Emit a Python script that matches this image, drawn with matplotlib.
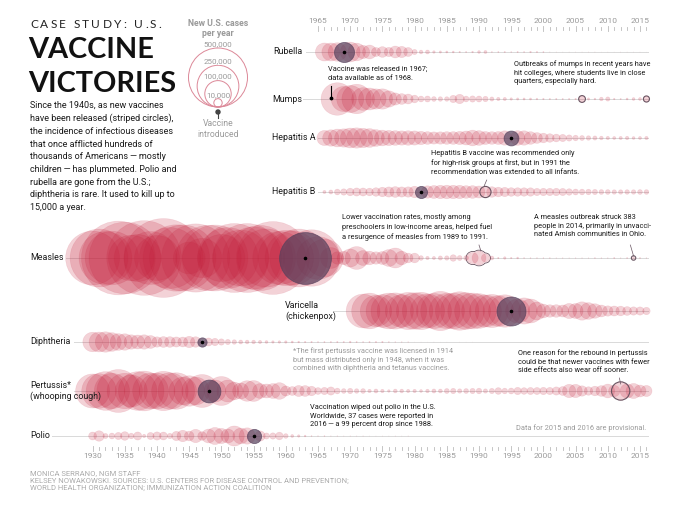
import numpy as np
import matplotlib.pyplot as plt
from matplotlib.patches import Circle

# new U.S. cases per year, first year of each series
RUBELLA_START = 1966
RUBELLA = [46975, 46888, 49371, 57686, 56552, 45086, 25507, 27804, 11917, 16652,
           12491, 20395, 18269, 11795, 3904, 2077, 2325, 970, 752, 630,
           551, 306, 225, 396, 1125, 1401, 160, 192, 227, 128,
           238, 181, 364, 267, 176, 23, 18, 7, 10, 11,
           11, 12, 16, 3, 5, 4, 9, 9, 6, 5, 1]
MUMPS_START = 1968
MUMPS = [152209, 90918, 104953, 124939, 74215, 69612, 59128, 59647, 38492, 21436,
         16817, 14225, 8576, 4941, 5270, 3355, 3021, 2982, 7790, 12848,
         4866, 5712, 5292, 4264, 2572, 1692, 1537, 906, 751, 683,
         666, 387, 338, 266, 270, 231, 258, 314, 6584, 800,
         454, 1991, 2612, 370, 229, 584, 1223, 1329, 5311]
HEPA_START = 1966
HEPA = [32859, 38909, 45893, 48416, 56797, 59606, 54074, 50749, 40358, 35855,
        33288, 31153, 29500, 30407, 29087, 25802, 23403, 21532, 22040, 23210,
        23430, 25280, 28507, 35821, 31441, 24378, 23112, 24238, 29796, 31582,
        31032, 30021, 23229, 17047, 13397, 10609, 8795, 7653, 5683, 4488,
        3579, 2979, 2585, 1987, 1670, 1398, 1562, 1781, 1239, 1390, 1649]
HEPB_START = 1966
HEPB = [1497, 2458, 4829, 5909, 8310, 9556, 9402, 8451, 10631, 13121,
        14973, 16831, 15016, 15452, 19015, 21152, 22177, 24318, 26115, 26611,
        26107, 25916, 23177, 23419, 21102, 18003, 16126, 13361, 12517, 10805,
        10637, 10416, 10258, 7694, 8036, 7843, 7996, 7526, 6212, 5119,
        4713, 4519, 4033, 3405, 3374, 2903, 2895, 3050, 2953, 3370, 3218]
MEASLES_START = 1930
MEASLES = [417756, 481530, 402445, 412000, 782000, 737000, 300000, 318000, 801000, 403000,
           291162, 894134, 534000, 633000, 630000, 146000, 669000, 222000, 615000, 625000,
           319000, 530000, 683000, 449000, 683000, 555000, 611000, 486000, 763000, 406000,
           442000, 424000, 482000, 385000, 458000, 262000, 204000, 62705, 22231, 25826,
           47351, 75290, 32275, 26690, 22094, 24374, 41126, 57345, 26871, 13597,
           13506, 3124, 1714, 1497, 2587, 2822, 6282, 3655, 3396, 18193,
           27786, 9643, 2237, 312, 963, 309, 508, 138, 100, 100,
           86, 116, 44, 56, 37, 66, 55, 43, 140, 71,
           63, 220, 55, 187, 667, 188, 70]
VARICELLA_START = 1972
VARICELLA = [164114, 182927, 141495, 154248, 183990, 188396, 154089, 199081, 190894, 200766,
             167423, 177462, 221983, 178162, 183243, 213196, 192857, 185441, 173099, 147076,
             158364, 134722, 151219, 120624, 83511, 98727, 82455, 46016, 27382, 22536,
             22841, 20948, 32931, 32242, 48445, 40146, 30386, 20480, 15427, 14513,
             13427, 11359, 10089, 9789, 8000]
DIPHTHERIA_START = 1930
DIPHTHERIA = [54900, 57000, 60000, 50000, 40000, 39000, 30000, 28000, 30000, 24000,
              15500, 17000, 16500, 14800, 14100, 18700, 16000, 12300, 9500, 7900,
              5800, 3983, 2960, 2355, 2041, 1984, 1568, 1211, 918, 934,
              918, 617, 444, 314, 293, 164, 209, 219, 260, 241,
              435, 215, 152, 228, 272, 307, 128, 84, 76, 59,
              3, 5, 2, 5, 1, 3, 0, 3, 2, 3]
PERTUSSIS_START = 1930
PERTUSSIS = [166914, 172559, 215343, 179135, 265269, 180518, 147237, 214652, 227319, 183866,
             183866, 222202, 191383, 191890, 109873, 133792, 109860, 156517, 74715, 69479,
             120718, 68687, 45030, 37129, 60886, 62786, 31732, 28295, 32148, 40005,
             14809, 11468, 17749, 17135, 13005, 6799, 7717, 9718, 4810, 3285,
             4249, 3036, 3287, 1759, 2402, 1738, 1010, 2177, 2063, 1623,
             1730, 1248, 1895, 2463, 2276, 3589, 4195, 2823, 3450, 4157,
             4570, 2719, 4083, 6586, 4617, 5137, 7796, 6564, 7405, 7298,
             7867, 7580, 9771, 11647, 25827, 25616, 15632, 10454, 13278, 16858,
             27550, 18719, 48277, 28639, 32971, 20762, 17972]
POLIO_START = 1930
POLIO = [9220, 15872, 3820, 5043, 7510, 10839, 4523, 9514, 1705, 7343,
         9804, 9086, 4167, 12450, 19029, 13624, 25698, 10827, 27726, 42033,
         33300, 28386, 57879, 35592, 38476, 28985, 15140, 5485, 5787, 8425,
         3190, 1312, 910, 449, 122, 72, 113, 41, 53, 20,
         33, 21, 31, 8, 7, 13, 10, 19, 8, 22]

# name, start, values, vaccine year, outlined years, row y (px)
ROWS = [
    ("Rubella", RUBELLA_START, RUBELLA, 1969, [], 52),
    ("Mumps", MUMPS_START, MUMPS, None, [2006, 2016], 99),
    ("Hepatitis A", HEPA_START, HEPA, 1995, [], 138),
    ("Hepatitis B", HEPB_START, HEPB, 1981, [1991], 192),
    ("Measles", MEASLES_START, MEASLES, 1963, [2014], 258),
    ("Varicella", VARICELLA_START, VARICELLA, 1995, [], 311),
    ("Diphtheria", DIPHTHERIA_START, DIPHTHERIA, 1947, [], 342),
    ("Pertussis", PERTUSSIS_START, PERTUSSIS, 1948, [2012], 391),
    ("Polio", POLIO_START, POLIO, 1955, [], 436),
]
MEASLES_BLOB = [1989, 1990, 1991]
LEGEND_VALUES = [500000, 250000, 100000, 10000]

W, H, DPI = 680, 507, 100
PXYR = 6.44                  # pixels per year
X0 = 1965 - 318 / PXYR       # year at left edge
R_MAX = 29.5                 # radius (px) of 500,000

RED = "#c41e3a"
DARK = "#56405c"
EDGE = "#6a5663"
GRAY = "#9a9a9a"
LINE = "#d9d9d9"
TXT = "#1a1a1a"

plt.rcParams['font.family'] = ['Roboto', 'DejaVu Sans']


def yr(px):
    return X0 + px / PXYR


def radius(c):
    return R_MAX * np.sqrt(np.asarray(c, float) / 500000)


def msize(r):
    return (2 * r * 72 / DPI) ** 2


fig = plt.figure(figsize=(W / DPI, H / DPI), dpi=DPI)
ax = fig.add_axes([0, 0, 1, 1])
ax.set_xlim(X0, X0 + W / PXYR)
ax.set_ylim(H, 0)
ax.axis("off")

# pixel axes for legend and text
lax = fig.add_axes([0, 0, 1, 1])
lax.set_xlim(0, W)
lax.set_ylim(H, 0)
lax.axis("off")
lax.patch.set_alpha(0)

line_start = {"Rubella": 306, "Mumps": 303, "Hepatitis A": 318, "Hepatitis B": 318,
              "Measles": 66, "Varicella": 333, "Diphtheria": 74, "Pertussis": 74,
              "Polio": 52}

for name, start, vals, vac, outl, y in ROWS:
    years = np.arange(start, start + len(vals))
    vals = np.array(vals, float)
    r = radius(vals)
    ax.plot([yr(line_start[name]), yr(648)], [y, y], color=LINE, lw=0.7, zorder=1)
    keep = (vals > 0) & (years != (vac or 0))
    ax.scatter(years[keep], np.full(keep.sum(), y), s=msize(r[keep]),
               facecolor=RED, alpha=0.2, edgecolor="none", zorder=2)
    ax.scatter(years[keep], np.full(keep.sum(), y), s=msize(r[keep]),
               facecolor="none", alpha=0.12, edgecolor=RED, linewidth=0.4, zorder=2)
    if vac is not None:
        i = vac - start
        ax.scatter([vac], [y], s=msize(r[i]), facecolor=DARK, alpha=0.7,
                   edgecolor=DARK, linewidth=0.6, zorder=4)
        ax.scatter([vac], [y], s=2.5, color="black", zorder=5)
    for oy in outl:
        i = oy - start
        ax.scatter([oy], [y], s=msize(max(r[i], 2.2)), facecolor="none",
                   edgecolor=EDGE, linewidth=0.8, zorder=4)

# measles 1989-1991 outline around the group
mi = [v - MEASLES_START for v in MEASLES_BLOB]
mr = radius(np.array(MEASLES)[mi])
ax.scatter(MEASLES_BLOB, [258] * 3, s=msize(mr + 0.6), color=EDGE, zorder=1.5)
ax.scatter(MEASLES_BLOB, [258] * 3, s=msize(mr - 0.2), color="white", zorder=1.6)

# mumps vaccine pin (1967)
ax.plot([1967, 1967], [86, 98], color="black", lw=0.8, zorder=5)
ax.scatter([1967], [98], s=3, color="black", zorder=5)


# year axes
def draw_axis(y0, y1, ylab, ticks_y, labels):
    for t in range(y0, y1 + 1):
        h = 2.5 if t % 5 == 0 else 1.5
        ax.plot([t, t], [ticks_y - h, ticks_y + h], color="#bbbbbb", lw=0.6, zorder=1)
    for t in labels:
        ax.text(t, ylab, str(t), ha="center", va="center", fontsize=6, color=GRAY)


draw_axis(1965, 2016, 21, 28, range(1965, 2016, 5))
draw_axis(1930, 2016, 456, 448, range(1930, 2016, 5))

# legend
cx, by = 218, 107
for v in LEGEND_VALUES:
    rr = float(radius(v))
    lax.add_patch(Circle((cx, by - rr), rr, facecolor="none", edgecolor="#dc8898", lw=0.7))
    lax.text(cx, by - 2 * rr - (4 if v != 10000 else 3.5), f"{v:,}",
             ha="center", va="center", fontsize=5.8, color=GRAY,
             bbox=dict(facecolor="white", edgecolor="none", pad=0.2) if v != 500000 else None)
lax.plot([cx, cx], [111, 118], color="#444444", lw=0.8)
lax.add_patch(Circle((cx, 112), 2.0, color="#444444"))
lax.text(cx, 23, "New U.S. cases", ha="center", va="center", fontsize=6.3, color=GRAY, fontweight="bold")
lax.text(cx, 34, "per year", ha="center", va="center", fontsize=6.3, color=GRAY, fontweight="bold")
lax.text(cx, 129, "Vaccine\nintroduced", ha="center", va="center", fontsize=6.2, color=GRAY,
         linespacing=1.15)


def t(x, y, s, **kw):
    kw.setdefault("va", "center")
    kw.setdefault("color", TXT)
    return lax.text(x, y, s, **kw)


# letter-spaced kicker
fig.canvas.draw()
renderer = fig.canvas.get_renderer()
x = 30
for ch in "CASE STUDY: U.S.":
    if ch == " ":
        x += 5
        continue
    txt = t(x, 24, ch, fontsize=8.6, fontfamily=["Lato", "DejaVu Sans"], color="#222222")
    bb = txt.get_window_extent(renderer)
    x += bb.width + 2.3

TITLE = dict(fontsize=20.8, fontweight="bold", fontfamily=["Lato", "DejaVu Sans"], color="#111111")
t(28, 50, "VACCINE", **TITLE)
t(28, 84, "VICTORIES", **TITLE)
t(30, 101, "Since the 1940s, as new vaccines\nhave been released (striped circles),\n"
           "the incidence of infectious diseases\nthat once afflicted hundreds of\n"
           "thousands of Americans\u2009\u2014\u2009mostly\nchildren\u2009\u2014\u2009has plummeted. Polio and\n"
           "rubella are gone from the U.S.;\ndiphtheria is rare. It used to kill up to\n15,000 a year.",
  va="top", fontsize=6.5, linespacing=1.52)

# row labels
for name, lx, ly in [("Rubella", 273, 52), ("Mumps", 272, 99), ("Hepatitis A", 272, 138),
                     ("Hepatitis B", 272, 192), ("Measles", 30, 258), ("Diphtheria", 30, 342),
                     ("Polio", 30, 436)]:
    t(lx, ly, name, fontsize=6.4)
t(285, 311, "Varicella\n(chickenpox)", fontsize=6.4, linespacing=1.2)
t(30, 391, "Pertussis*\n(whooping cough)", fontsize=6.4, linespacing=1.2)

# annotations
NOTE = dict(fontsize=5.3, linespacing=1.35, va="top")
t(328, 66, "Vaccine was released in 1967;\ndata available as of 1968.", **NOTE)
t(514, 60, "Outbreaks of mumps in recent years have\nhit colleges, where students live in close\n"
           "quarters, especially hard.", **NOTE)
t(431, 150, "Hepatitis B vaccine was recommended only\nfor high-risk groups at first, but in 1991 the\n"
            "recommendation was extended to all infants.", **NOTE)
t(342, 214, "Lower vaccination rates, mostly among\npreschoolers in low-income areas, helped fuel\n"
            "a resurgence of measles from 1989 to 1991.", **NOTE)
t(534, 214, "A measles outbreak struck 383\npeople in 2014, primarily in unvacci-\n"
            "nated Amish communities in Ohio.", **NOTE)
t(293, 347, "*The first pertussis vaccine was licensed in 1914\nbut mass distributed only in 1948, when it was\n"
            "combined with diphtheria and tetanus vaccines.", color=GRAY, **NOTE)
t(518, 349, "One reason for the rebound in pertussis\ncould be that newer vaccines with fewer\n"
            "side effects also wear off sooner.", **NOTE)
t(310, 404, "Vaccination wiped out polio in the U.S.\nWorldwide, 37 cases were reported in\n"
            "2016\u2009\u2014\u2009a 99 percent drop since 1988.", **NOTE)
t(646, 428, "Data for 2015 and 2016 are provisional.", fontsize=5.3, color=GRAY, ha="right")

# leader lines
ax.plot([1991.2, 1990.8], [180, 186], color=EDGE, lw=0.5)
ax.plot([1990.0, 1990.3], [245, 251], color=EDGE, lw=0.5)
ax.plot([2013.5, 2014], [245, 256], color=EDGE, lw=0.5)
ax.plot([2011.8, 2012], [378, 384], color=EDGE, lw=0.5)

# credits
t(30, 470, "MONICA SERRANO, NGM STAFF\nKELSEY NOWAKOWSKI. SOURCES: U.S. CENTERS FOR DISEASE CONTROL AND PREVENTION;\n"
           "WORLD HEALTH ORGANIZATION; IMMUNIZATION ACTION COALITION",
  fontsize=5.5, color="#aaaaaa", va="top", linespacing=1.3)

fig.savefig("out.png", dpi=DPI)
